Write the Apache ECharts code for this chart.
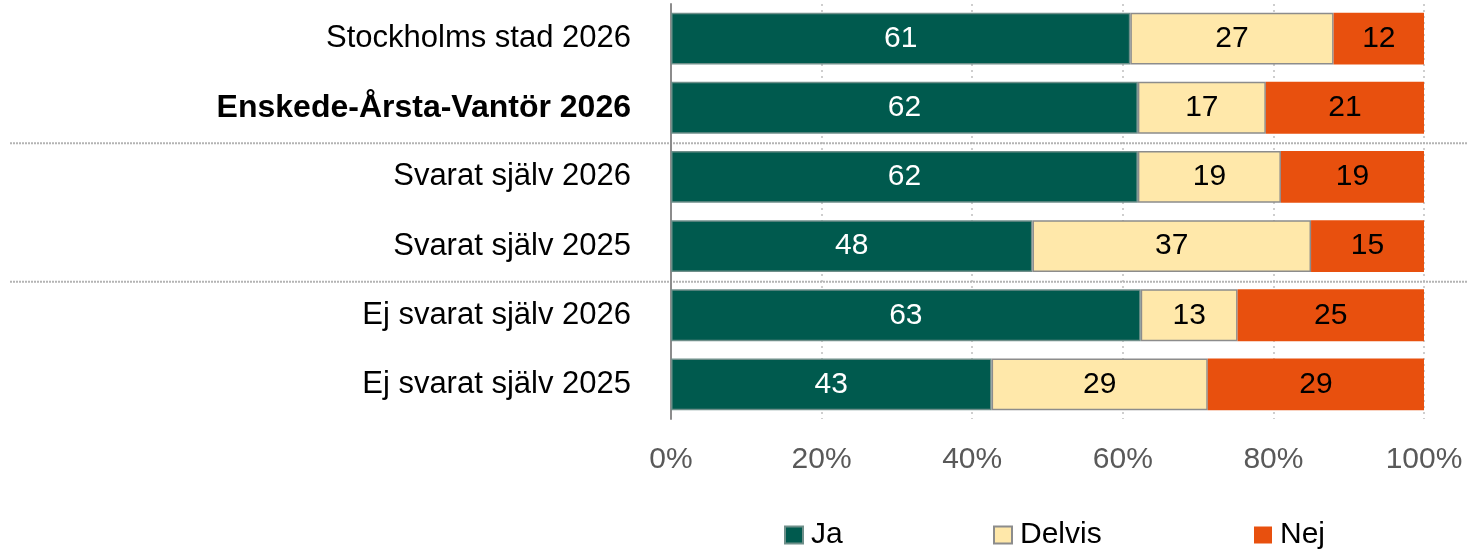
<!DOCTYPE html>
<html><head><meta charset="utf-8">
<script src="https://cdn.jsdelivr.net/npm/echarts@6/dist/echarts.min.js"></script>
<style>html,body{margin:0;padding:0;background:#fff}#c{width:1468px;height:553px}</style>
</head><body><div id="c"></div>
<script>
const categories = ['Stockholms stad 2026','Enskede-Årsta-Vantör 2026','Svarat själv 2026','Svarat själv 2025','Ej svarat själv 2026','Ej svarat själv 2025'];
const ja = [61,62,62,48,63,43];
const delvis = [27,17,19,37,13,29];
const nej = [12,21,19,15,25,29];
const xTicks = ['0%','20%','40%','60%','80%','100%'];
const boldCategory = 'Enskede-Årsta-Vantör 2026';
const dividersAfter = [1,3]; // group separators after these category indices

const FONT = '"Liberation Sans", Arial, sans-serif';
const totals = ja.map((v,i)=>v+delvis[i]+nej[i]);
const share = (arr)=>arr.map((v,i)=>({value: v/totals[i]*100, raw: v}));

function mkSeries(name, arr, color, labelColor, border){
  return {
    name, type:'bar', stack:'s', data: share(arr), barCategoryGap:'25%',
    itemStyle:{color, borderColor: border||color, borderWidth: border?1.5:0},
    label:{show:true, position:'inside', color:labelColor, fontSize:30, fontFamily:FONT,
      formatter:p=>p.data.raw},
    emphasis:{disabled:true}
  };
}
function leg(name, left){
  return {data:[name], left, top:515, itemWidth:18, itemHeight:17, icon:'rect',
    textStyle:{fontSize:30, color:'#000', fontFamily:FONT, padding:[0,0,0,3]}, selectedMode:false};
}
const chart = echarts.init(document.getElementById('c'));
chart.setOption({
  animation:false,
  textStyle:{fontFamily:FONT},
  grid:{left:671, right:44, top:4, bottom:134},
  legend:[leg('Ja',779), leg('Delvis',988), leg('Nej',1249)],
  xAxis:{type:'value', min:0, max:100, interval:20,
    axisLine:{show:false}, axisTick:{show:false},
    splitLine:{show:true, lineStyle:{color:'#bfbfbf', type:[2,4], width:1.5}},
    axisLabel:{fontSize:30, color:'#595959', margin:26, fontFamily:FONT,
      formatter:v=>xTicks[Math.round(v/20)]}},
  yAxis:{type:'category', inverse:true, data:categories,
    axisLine:{show:true, lineStyle:{color:'#8c8c8c', width:2}}, axisTick:{show:false},
    axisLabel:{fontSize:31, color:'#000', margin:40, fontFamily:FONT,
      formatter:v=> v===boldCategory ? '{b|'+v+'}' : v,
      rich:{b:{fontWeight:'bold', fontSize:32, color:'#000', fontFamily:FONT}}}},
  series:[
    mkSeries('Ja', ja, '#005a4e', '#fff', '#6f8f8a'),
    mkSeries('Delvis', delvis, '#ffe8aa', '#000', '#8c8c8c'),
    mkSeries('Nej', nej, '#e8500e', '#000', null)
  ]
});
// separators between groups, positioned via axis scale
const lines = dividersAfter.map(i=>{
  const y1 = chart.convertToPixel({yAxisIndex:0}, i);
  const y2 = chart.convertToPixel({yAxisIndex:0}, i+1);
  const y = (y1+y2)/2 + 1;
  return {type:'line', shape:{x1:10, y1:y, x2:1468, y2:y}, z:0,
    style:{stroke:'#b4b4b4', lineWidth:2, lineDash:[2,1]}};
});
chart.setOption({graphic:lines});
</script></body></html>
